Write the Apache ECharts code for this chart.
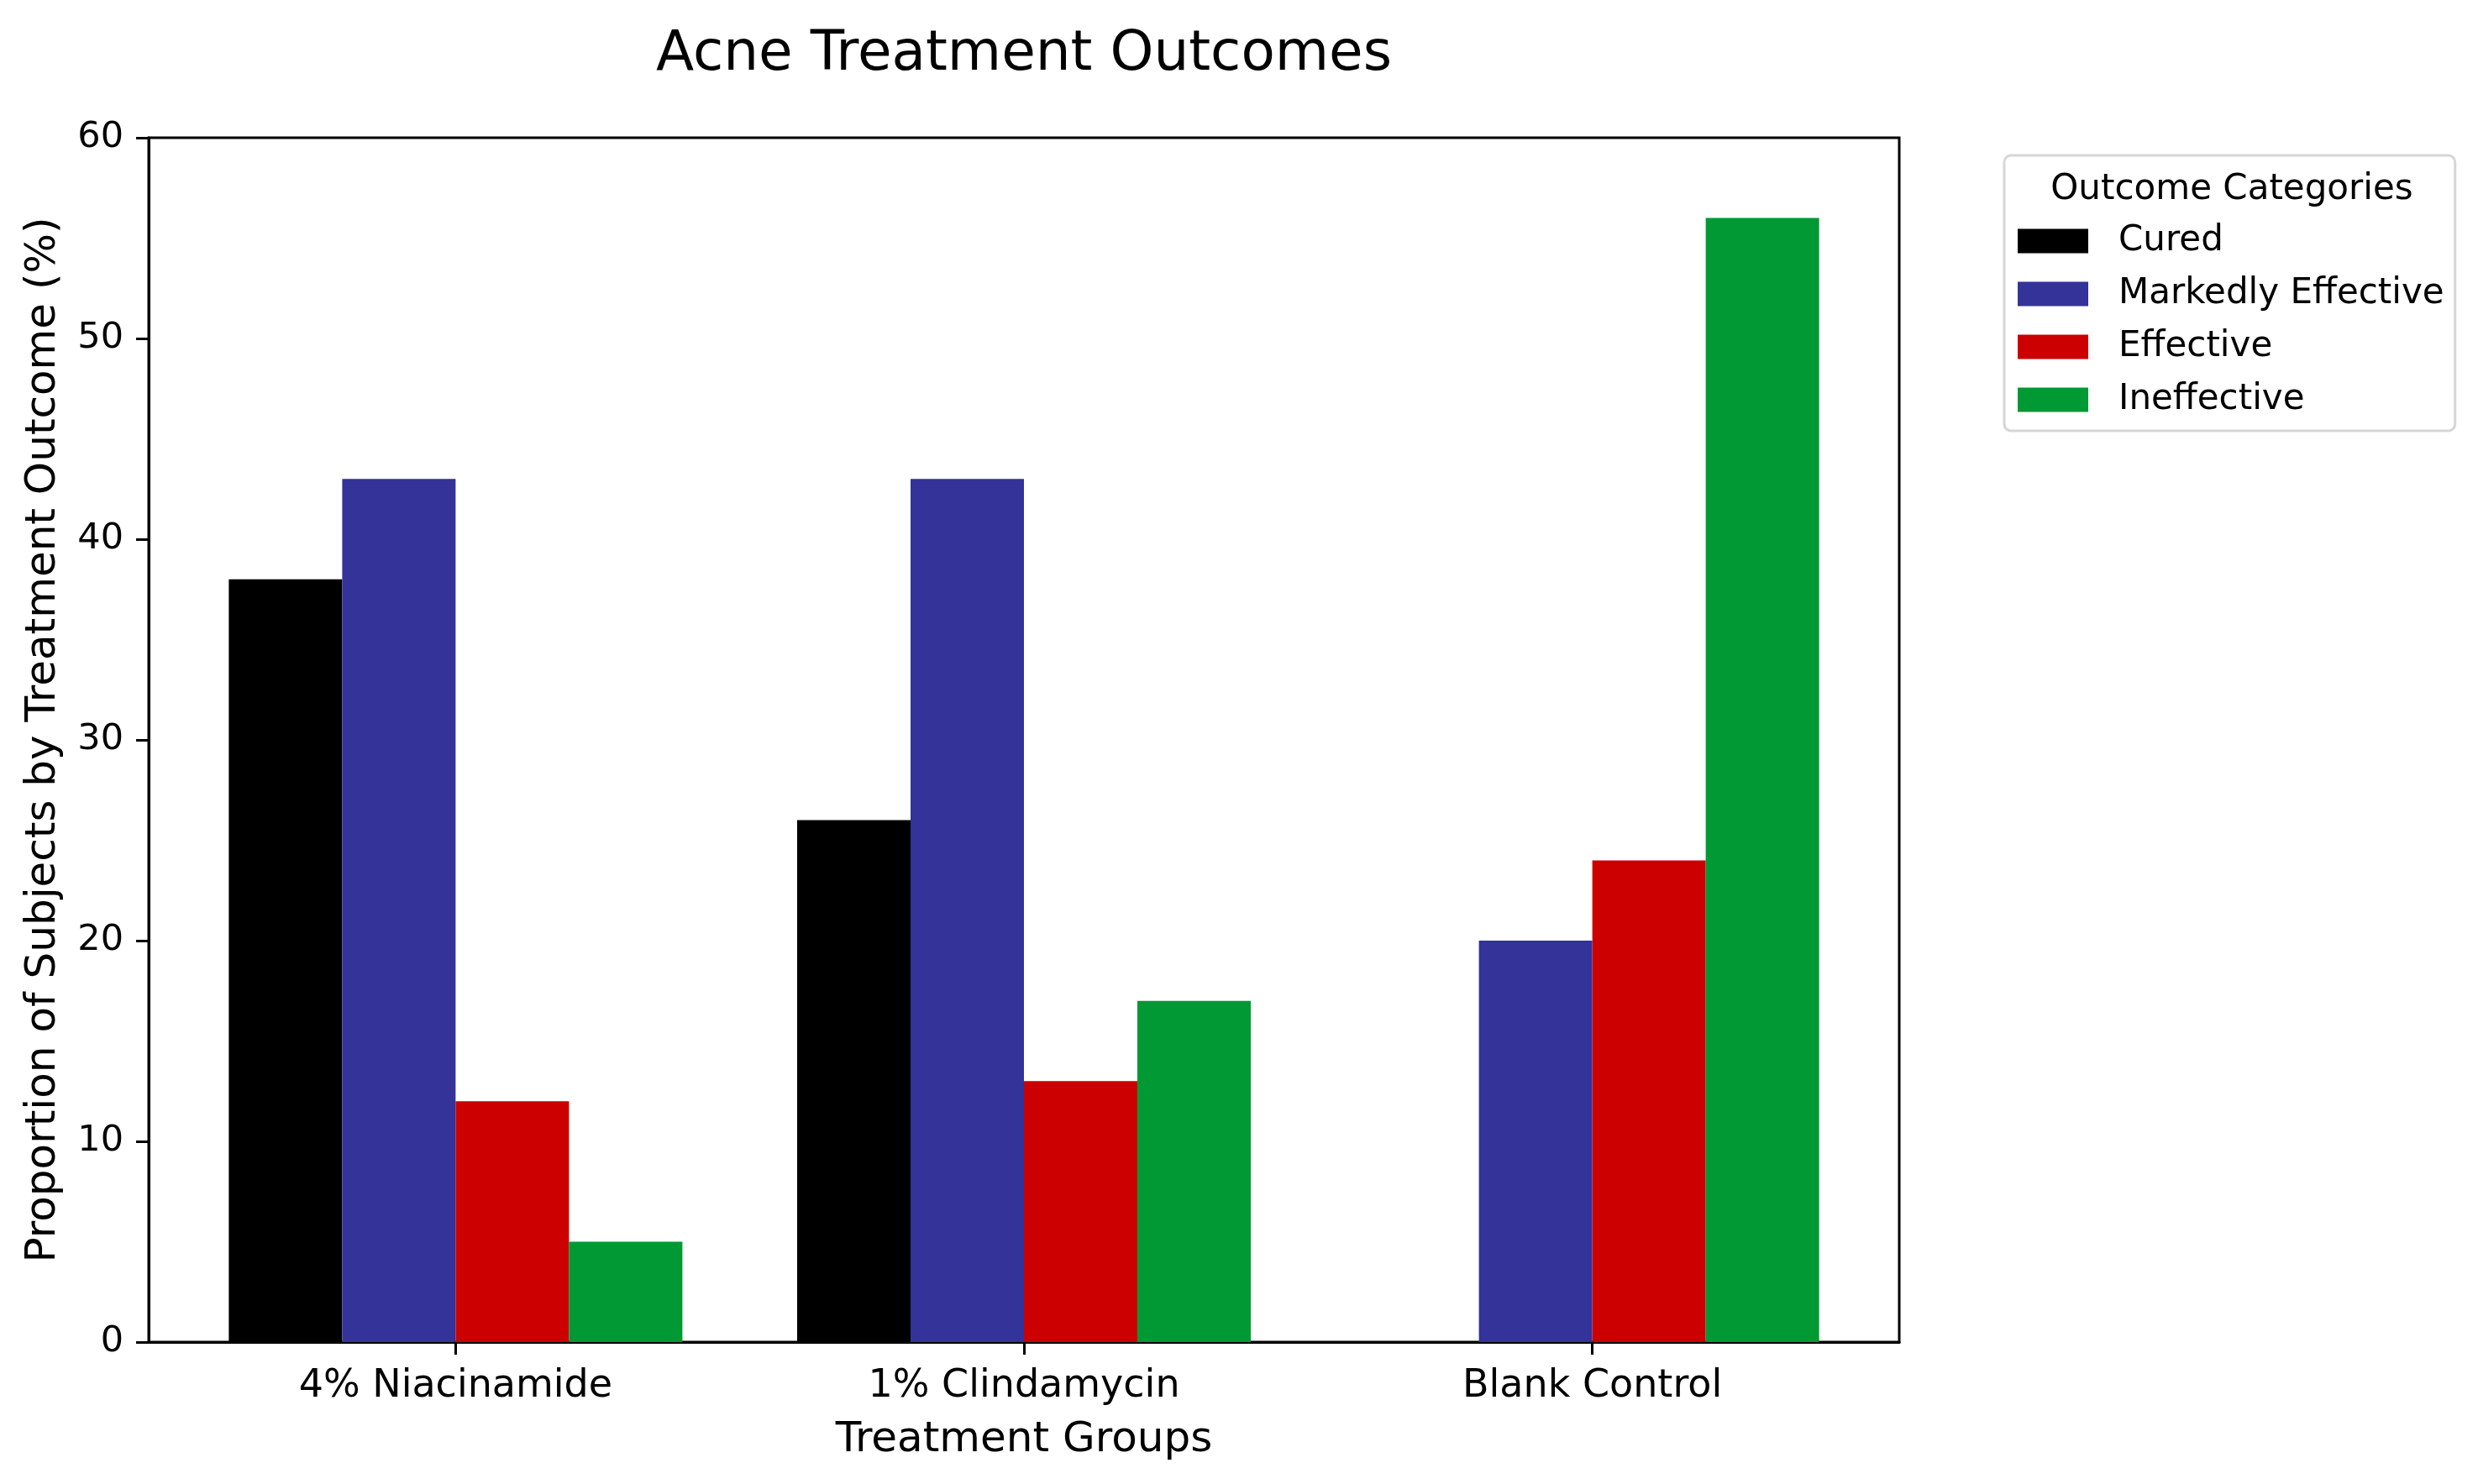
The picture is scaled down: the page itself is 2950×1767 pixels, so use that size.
<!DOCTYPE html>
<html>
<head>
<meta charset="utf-8">
<script src="https://cdn.jsdelivr.net/npm/echarts@6/dist/echarts.min.js"></script>
<style>
  html, body { margin: 0; padding: 0; background: #fff; }
  #main { width: 2950px; height: 1767px; }
</style>
</head>
<body>
<div id="main"></div>
<script>
const groups = ['4% Niacinamide', '1% Clindamycin', 'Blank Control'];
const outcomes = ['Cured', 'Markedly Effective', 'Effective', 'Ineffective'];
const cured = [38, 26, 0];
const markedly = [43, 43, 20];
const effective = [12, 13, 24];
const ineffective = [5, 17, 56];
const yTicks = [0, 10, 20, 30, 40, 50, 60];
const colors = ['#000000', '#333399', '#cc0000', '#009933'];

const font = 'DejaVu Sans';
const seriesData = [cured, markedly, effective, ineffective];

const chart = echarts.init(document.getElementById('main'), null, { renderer: 'canvas' });

chart.setOption({
  animation: false,
  backgroundColor: '#fff',
  title: [
    {
      text: 'Acne Treatment Outcomes',
      left: 1214,
      textAlign: 'center',
      top: 28,
      textStyle: { fontFamily: font, fontSize: 66, fontWeight: 'normal', color: '#000' }
    },
    {
      text: 'Outcome Categories',
      left: 2652,
      textAlign: 'center',
      top: 200,
      textStyle: { fontFamily: font, fontSize: 42, fontWeight: 'normal', color: '#000' }
    }
  ],
  legend: {
    orient: 'vertical',
    left: 2386,
    top: 185,
    padding: [81, 13, 16, 16],
    itemWidth: 84,
    itemHeight: 29,
    itemGap: 21,
    icon: 'rect',
    borderColor: '#d6d6d6',
    borderWidth: 3,
    borderRadius: 8,
    backgroundColor: '#fff',
    textStyle: { fontFamily: font, fontSize: 42, color: '#000', padding: [0, 0, 0, 31] },
    data: outcomes
  },
  grid: {
    left: 177,
    right: 689,
    top: 164,
    bottom: 169,
    show: true,
    borderColor: '#000',
    borderWidth: 3,
    backgroundColor: 'transparent'
  },
  xAxis: {
    type: 'value',
    min: -0.54,
    max: 2.54,
    name: 'Treatment Groups',
    nameLocation: 'middle',
    nameGap: 92,
    nameTextStyle: { fontFamily: font, fontSize: 50, color: '#000' },
    axisLine: { show: true, onZero: false, lineStyle: { color: '#000', width: 3 } },
    axisTick: { show: true, length: 15, customValues: [0, 1, 2], lineStyle: { color: '#000', width: 3 } },
    axisLabel: {
      customValues: [0, 1, 2],
      margin: 30,
      fontFamily: font,
      fontSize: 46,
      color: '#000',
      formatter: v => groups[Math.round(v)] || ''
    },
    splitLine: { show: false }
  },
  yAxis: {
    type: 'value',
    min: 0,
    max: 60,
    interval: 10,
    name: 'Proportion of Subjects by Treatment Outcome (%)',
    nameLocation: 'middle',
    nameGap: 100,
    nameTextStyle: { fontFamily: font, fontSize: 50, color: '#000' },
    axisLine: { show: true, onZero: false, lineStyle: { color: '#000', width: 3 } },
    axisTick: { show: true, length: 15, lineStyle: { color: '#000', width: 3 } },
    axisLabel: {
      margin: 30,
      fontFamily: font,
      fontSize: 43,
      color: '#000',
      formatter: v => (yTicks.indexOf(v) >= 0 ? String(v) : '')
    },
    splitLine: { show: false }
  },
  series: outcomes.map((name, k) => ({
    name: name,
    type: 'bar',
    barWidth: 135,
    barGap: '0%',
    itemStyle: { color: colors[k] },
    data: seriesData[k].map((v, i) => [i, v])
  }))
});
</script>
</body>
</html>
